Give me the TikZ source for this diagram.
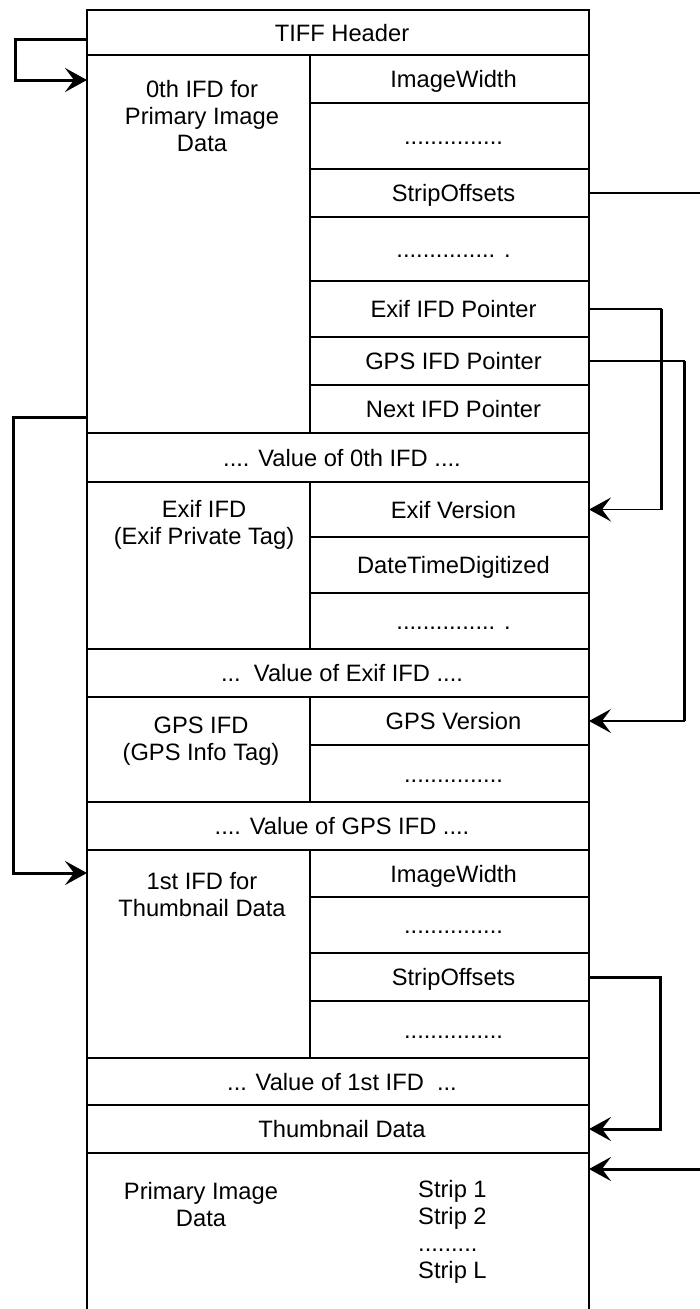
\documentclass[tikz,border=0pt]{standalone}
\usepackage{fontspec}
\setmainfont{Liberation Sans}
\usetikzlibrary{arrows.meta}
\tikzset{
  cellst/.style={draw, line width=1.7pt, inner sep=0pt, outer sep=0pt},
  lbl/.style={inner sep=0pt, text height=17pt, text depth=0pt, font=\fontsize{23.7}{27}\selectfont},
  mlbl/.style={inner sep=0pt, align=center, anchor=north, font=\fontsize{23.7}{27}\selectfont},
  llbl/.style={inner sep=0pt, align=left, anchor=north west, font=\fontsize{23.7}{27}\selectfont},
  thinconn/.style={line width=1.4pt},
  thickconn/.style={line width=3pt},
  tipped/.style={-{Stealth[length=22pt,width=24pt,inset=9pt]}}
}
\newcommand\mkcell[6]{%
  \node[cellst, minimum width={#4-#2}, minimum height={#5-#3}] (#1) at ({(#2+#4)/2},{(#3+#5)/2}) {};
  \node[lbl] (#1-t) at ([xshift=4pt]#1.center) {#6};}
\newcommand\mkblank[5]{%
  \node[cellst, minimum width={#4-#2}, minimum height={#5-#3}] (#1) at ({(#2+#4)/2},{(#3+#5)/2}) {};}
\begin{document}
\begin{tikzpicture}[x=1pt,y=-1pt]
\fill[white] (0,0) rectangle (699,1309);
\useasboundingbox (0,0) rectangle (699,1309);
% header
\mkcell{hdr}{87}{10}{589}{55}{TIFF Header}
% 0th IFD
\mkblank{ifd0}{87}{55}{310}{433}
\node[mlbl] (ifd0-t) at (202,80) {0th IFD for\\Primary Image\\Data};
\mkcell{iw0}{310}{55}{589}{103}{ImageWidth}
\mkcell{d01}{310}{103}{589}{169}{...............}
\mkcell{so0}{310}{169}{589}{217}{StripOffsets}
\mkcell{d02}{310}{217}{589}{281}{............... .}
\mkcell{pex}{310}{281}{589}{337}{Exif IFD Pointer}
\mkcell{pgps}{310}{337}{589}{385}{GPS IFD Pointer}
\mkcell{pnext}{310}{385}{589}{433}{Next IFD Pointer}
\mkcell{v0}{87}{433}{589}{482}{.... Value of 0th IFD ....}
% Exif IFD
\mkblank{exif}{87}{482}{310}{649}
\node[mlbl] (exif-t) at (204,500) {Exif IFD\\(Exif Private Tag)};
\mkcell{ev}{310}{482}{589}{537}{Exif Version}
\mkcell{dtd}{310}{537}{589}{593}{DateTimeDigitized}
\mkcell{de}{310}{593}{589}{649}{............... .}
\mkcell{vex}{87}{649}{589}{697}{...~~Value of Exif IFD ....}
% GPS IFD
\mkblank{gps}{87}{697}{310}{802}
\node[mlbl] (gps-t) at (201,717) {GPS IFD\\(GPS Info Tag)};
\mkcell{gv}{310}{697}{589}{745}{GPS Version}
\mkcell{dg}{310}{745}{589}{802}{...............}
\mkcell{vg}{87}{802}{589}{850}{.... Value of GPS IFD ....}
% 1st IFD
\mkblank{ifd1}{87}{850}{310}{1058}
\node[mlbl] (ifd1-t) at (202,872) {1st IFD for\\Thumbnail Data};
\mkcell{iw1}{310}{850}{589}{897}{ImageWidth}
\mkcell{d11}{310}{897}{589}{953}{...............}
\mkcell{so1}{310}{953}{589}{1001}{StripOffsets}
\mkcell{d12}{310}{1001}{589}{1058}{...............}
\mkcell{v1}{87}{1058}{589}{1105}{... Value of 1st IFD~~...}
\mkcell{thumb}{87}{1105}{589}{1153}{Thumbnail Data}
% primary image data (open at bottom)
\node[inner sep=0pt, outer sep=0pt, minimum width=502, minimum height=156] (prim) at (338,1231) {};
\draw[line width=1.7pt] (prim.north west) -- (prim.south west) (prim.north east) -- (prim.south east);
\node[mlbl] (prim-t) at (201,1182) {Primary Image\\Data};
\node[llbl] (strips) at (418,1180) {Strip 1\\Strip 2\\.........\\Strip L};
% connectors
\draw[thickconn, tipped] ([yshift=-6.5pt]hdr.west) -- ++(-72,0) |- ([yshift=-25pt]ifd0.north west);
\draw[thickconn, tipped] ([yshift=16pt]ifd0.south west) -- ++(-74,0) |- ([yshift=-23pt]ifd1.north west);
\coordinate (cex) at ([xshift=72pt]pex.east);
\draw[thinconn, tipped] (pex.east) -- (cex) |- (ev.east);
\draw[thickconn] (cex) -- (cex |- ev.east);
\coordinate (cgps) at ([xshift=95pt]pgps.east);
\draw[thinconn, tipped] (pgps.east) -- (cgps) |- (gv.east);
\draw[thickconn] (cgps) -- (cgps |- gv.east);
\coordinate (offR) at (700,193);
\draw[thinconn] (so0.east) -- (offR);
\coordinate (cso1) at ([xshift=71pt]so1.east);
\draw[thickconn, tipped] (so1.east) -- (cso1) |- (thumb.east);
\coordinate (inR) at (700,1169);
\draw[thickconn, tipped] (inR) -- ([yshift=-16pt]prim.north east);
\end{tikzpicture}
\end{document}
